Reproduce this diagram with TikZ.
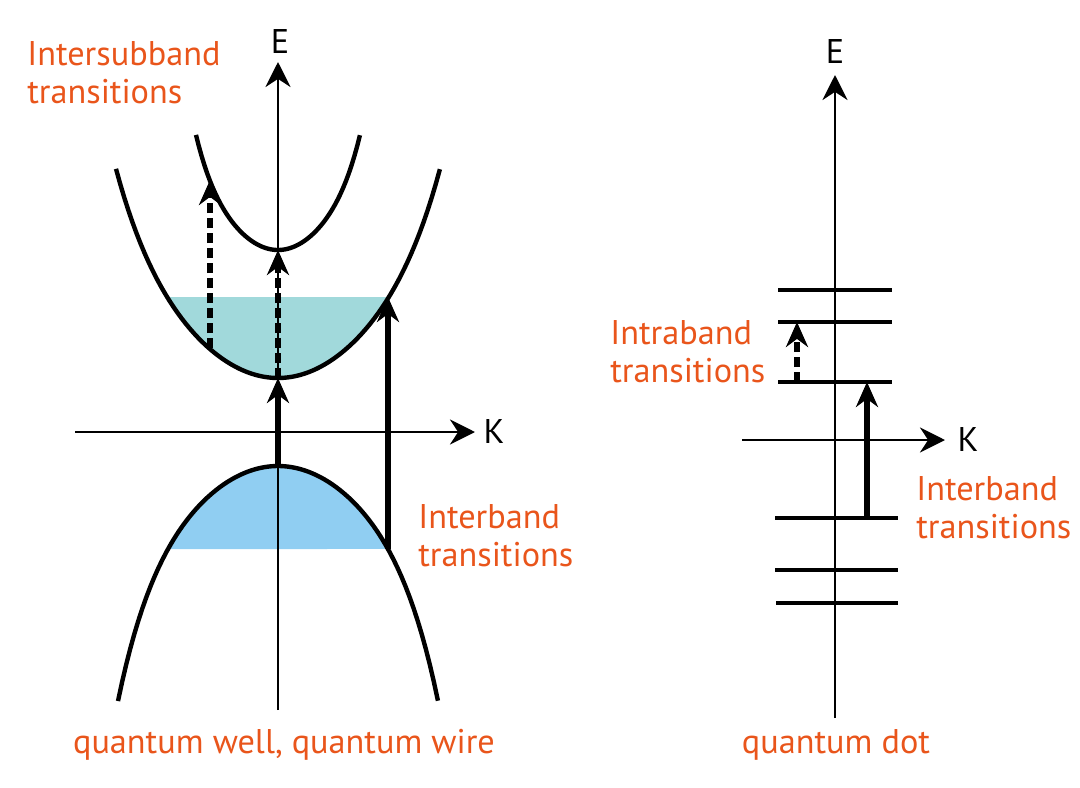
\documentclass[tikz,border=0pt]{standalone}
\usepackage{fontspec}
\setmainfont{PT Sans}
\usetikzlibrary{arrows.meta}
\definecolor{lblorange}{RGB}{233,85,27}
\definecolor{cbfill}{RGB}{161,217,219}
\definecolor{vbfill}{RGB}{144,206,242}

\begin{document}
\begin{tikzpicture}[
  x=0.02cm, y=-0.02cm,
  font=\fontsize{19.5}{21.6}\selectfont,
  axis/.style={line width=1.7pt, -{Stealth[length=5mm, width=5mm]}},
  band/.style={line width=2.5pt},
  level/.style={line width=1.8pt},
  trans/.style={line width=3.2pt, -{Stealth[length=5mm, width=4.4mm]}},
  dtrans/.style={trans, dash pattern=on 2mm off 1mm},
  lbl/.style={text=lblorange, align=left, anchor=west, inner sep=0pt},
  axlbl/.style={inner sep=0pt},
]
\useasboundingbox (0,0) rectangle (1080,788);

% ---------- quantum well / wire: filled states ----------
\fill[cbfill] plot[domain=-1.108:1.108, samples=60]
  ({278+100*\x}, {378-62*\x*\x-2.57*(\x*\x)^3}) -- cycle;
\fill[vbfill] plot[domain=-1.1:1.1, samples=60]
  ({278+100*\x}, {466+62*\x*\x+4.55*(\x*\x)^3}) -- cycle;

% ---------- axes ----------
\coordinate (eLo) at (278,710);
\coordinate (eHi) at (278,62);
\coordinate (kLo) at (75,432);
\coordinate (kHi) at (475,432);
\draw[axis] (eLo) -- (eHi);
\draw[axis] (kLo) -- (kHi);
\node[axlbl] (eLbl) at (280,42) {E};
\node[axlbl] (kLbl) at (494,432) {K};

% ---------- bands ----------
\draw[band] plot[domain=-1.62:1.62, samples=80]
  ({278+100*\x}, {378-62*\x*\x-2.57*(\x*\x)^3});
\draw[band] plot[domain=-0.82:0.82, samples=60]
  ({278+100*\x}, {250-130*\x*\x-91*(\x*\x)^3});
\draw[band] plot[domain=-1.6:1.6, samples=80]
  ({278+100*\x}, {466+62*\x*\x+4.55*(\x*\x)^3});

% ---------- transitions ----------
\coordinate (vbTop) at (278,466);
\coordinate (cbBot) at (278,378);
\coordinate (sbBot) at (278,250);
\coordinate (isLo)  at (210,348);
\coordinate (isHi)  at (210,180);
\coordinate (ibLo)  at (388,549);
\coordinate (ibHi)  at (388,297);
\draw[trans]  (vbTop) -- (cbBot);
\draw[dtrans] (cbBot) -- (sbBot);
\draw[dtrans] (isLo) -- (isHi);
\draw[trans]  (ibLo) -- (ibHi);

\node[lbl] (interSub) at (27,73) {Intersubband\\transitions};
\node[lbl] (interWell) at (418,536) {Interband\\transitions};
\node[text=lblorange, inner sep=0pt] (wellName) at (284,745) {quantum well, quantum wire};

% ---------- quantum dot ----------
\coordinate (dLo) at (835,718);
\coordinate (dHi) at (835,75);
\coordinate (dkLo) at (742,440);
\coordinate (dkHi) at (945,440);
\draw[axis] (dLo) -- (dHi);
\draw[axis] (dkLo) -- (dkHi);
\node[axlbl] (deLbl) at (835,52) {E};
\node[axlbl] (dkLbl) at (968,440) {K};

\foreach \yy/\xa/\xb [count=\i] in
  {290/778/892, 322/778/892, 382/778/892, 518/775/898, 570/775/898, 603/776/898}
  \draw[level] (\xa,\yy) coordinate (lv\i w) -- (\xb,\yy) coordinate (lv\i e);

\coordinate (intraLo) at (797,382);
\coordinate (intraHi) at (797,322);
\coordinate (dotLo) at (867,518);
\coordinate (dotHi) at (867,382);
\draw[dtrans] (intraLo) -- (intraHi);
\draw[trans]  (dotLo) -- (dotHi);

\node[lbl] (intraLbl) at (610,352) {Intraband\\transitions};
\node[lbl] (interDot) at (916,508) {Interband\\transitions};
\node[text=lblorange, inner sep=0pt] (dotName) at (836,745) {quantum dot};
\end{tikzpicture}
\end{document}
